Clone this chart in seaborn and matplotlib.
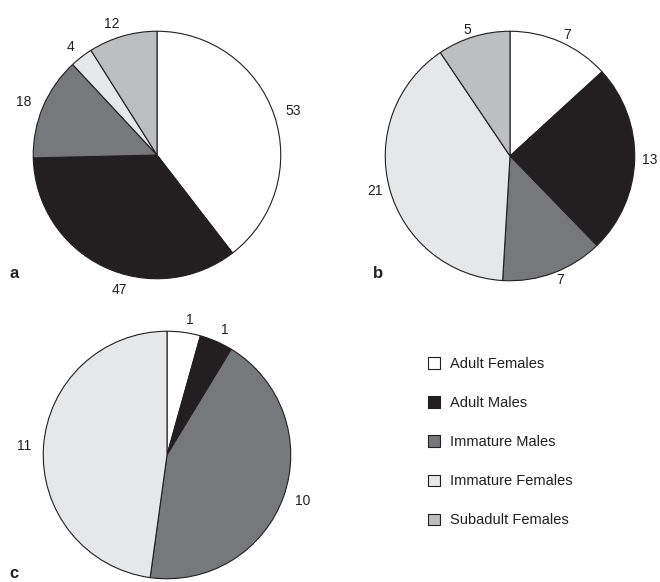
import seaborn as sns
import matplotlib.pyplot as plt
from matplotlib.patches import Patch

sns.set_theme(style='white')
plt.rcParams['font.family'] = ['Liberation Sans', 'DejaVu Sans']

# categories and colours
groups = ['Adult Females', 'Adult Males', 'Immature Males', 'Immature Females', 'Subadult Females']
colors = ['#ffffff', '#231f20', '#77787b', '#e6e7e8', '#bcbec0']

# counts per panel
counts_a = [53, 47, 18, 4, 12]
counts_b = [7, 13, 7, 21, 5]
counts_c = [1, 1, 10, 11, 0]

W, H = 660, 582
fig = plt.figure(figsize=(W / 100, H / 100), dpi=100)


def pie_panel(cx, cy, r, counts, letter, lx, ly, ldist=1.1):
    # axes placed in pixel coords of the figure
    ax = fig.add_axes([(cx - r) / W, (H - cy - r) / H, 2 * r / W, 2 * r / H])
    vals = [v for v in counts if v > 0]
    cols = [c for v, c in zip(counts, colors) if v > 0]
    wedges, texts = ax.pie(vals, labels=[str(v) for v in vals], colors=cols, startangle=90,
                           counterclock=False, labeldistance=ldist,
                           wedgeprops={'edgecolor': '#231f20', 'linewidth': 0.8},
                           textprops={'fontsize': 10, 'color': '#231f20'})
    ax.set_xlim(-1.01, 1.01)
    ax.set_ylim(-1.01, 1.01)
    ax.set_aspect('equal')
    fig.text(lx / W, 1 - ly / H, letter, fontsize=12, fontweight='bold',
             color='#231f20', ha='left', va='baseline')
    return texts


texts_a = pie_panel(157, 155, 125, counts_a, 'a', 9, 278)
# the "47" label sits lower and more to the right in the original
texts_a[1].set_position((-0.37, -1.09))
texts_a[1].set_ha('left')
pie_panel(510, 156, 126, counts_b, 'b', 373, 278, ldist=1.06)
pie_panel(167, 455, 125, counts_c, 'c', 9, 578)

handles = [Patch(facecolor=c, edgecolor='#231f20', linewidth=0.8) for c in colors]
fig.legend(handles, groups, loc='upper left', bbox_to_anchor=(428 / W, 1 - 357 / H),
           frameon=False, fontsize=10.5, labelspacing=1.72, handlelength=0.82,
           handleheight=0.82, handletextpad=0.7, borderpad=0, borderaxespad=0,
           labelcolor='#231f20')

fig.savefig('out.png', dpi=100)
